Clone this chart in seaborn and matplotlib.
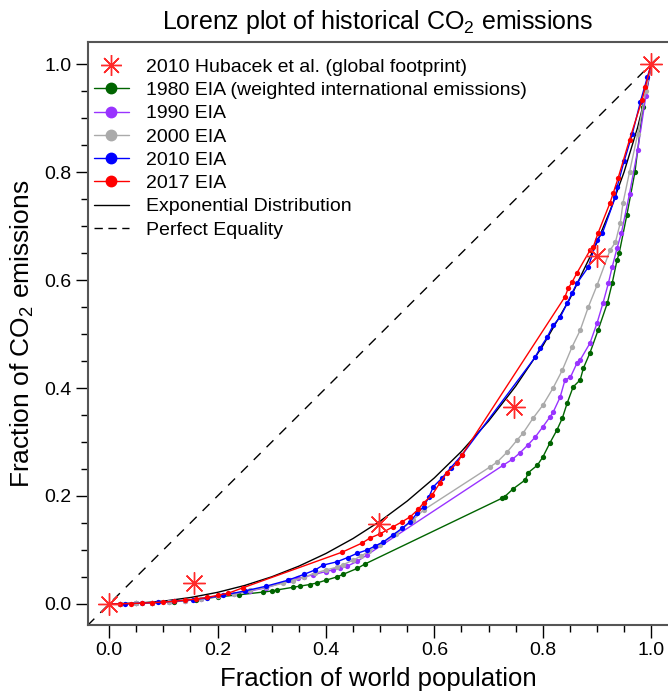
import numpy as np
import pandas as pd
import matplotlib
matplotlib.use('Agg')
import matplotlib.pyplot as plt
from matplotlib.lines import Line2D
import seaborn as sns

sns.set_style("ticks")
plt.rcParams['font.family'] = ['Liberation Sans', 'DejaVu Sans']
plt.rcParams['mathtext.fontset'] = 'custom'
plt.rcParams['mathtext.rm'] = 'Liberation Sans'
plt.rcParams['text.color'] = 'black'
plt.rcParams['axes.labelcolor'] = 'black'
plt.rcParams['xtick.color'] = 'black'
plt.rcParams['ytick.color'] = 'black'

# Hubacek et al. 2010 (global footprint)
hub_x = [0.0, 0.157, 0.498, 0.747, 0.900, 1.0]
hub_y = [0.0, 0.039, 0.148, 0.365, 0.644, 1.0]

# EIA 1980
x1980 = [0, 0.02, 0.05, 0.08, 0.12, 0.16, 0.20, 0.24, 0.284, 0.30, 0.31, 0.34, 0.352, 0.37,
         0.384, 0.40, 0.42, 0.432, 0.458, 0.472, 0.725, 0.73, 0.745, 0.768, 0.773, 0.79,
         0.80, 0.813, 0.826, 0.836, 0.845, 0.856, 0.869, 0.875, 0.887, 0.902, 0.919, 0.928,
         0.937, 0.941, 0.955, 0.97, 0.985, 1.0]
y1980 = [0, 0.0004, 0.001, 0.002, 0.004, 0.008, 0.013, 0.017, 0.022, 0.024, 0.026, 0.031,
         0.033, 0.036, 0.039, 0.044, 0.050, 0.055, 0.066, 0.074, 0.196, 0.199, 0.213, 0.230,
         0.243, 0.257, 0.272, 0.298, 0.322, 0.344, 0.372, 0.402, 0.415, 0.437, 0.465, 0.507,
         0.557, 0.594, 0.637, 0.65, 0.72, 0.80, 0.92, 1.0]

# EIA 1990
x1990 = [0, 0.02, 0.05, 0.08, 0.11, 0.14, 0.17, 0.20, 0.23, 0.26, 0.29, 0.334, 0.349, 0.36,
         0.376, 0.40, 0.413, 0.426, 0.439, 0.458, 0.476, 0.727, 0.744, 0.758, 0.773, 0.786,
         0.80, 0.813, 0.819, 0.832, 0.841, 0.851, 0.863, 0.869, 0.887, 0.90, 0.911, 0.921,
         0.928, 0.937, 0.945, 0.96, 0.975, 0.99, 1.0]
y1990 = [0, 0.0003, 0.001, 0.002, 0.004, 0.006, 0.009, 0.014, 0.019, 0.024, 0.030, 0.044,
         0.048, 0.050, 0.054, 0.060, 0.063, 0.066, 0.070, 0.079, 0.091, 0.257, 0.268, 0.280,
         0.295, 0.309, 0.328, 0.346, 0.355, 0.383, 0.415, 0.420, 0.446, 0.452, 0.483, 0.520,
         0.557, 0.594, 0.624, 0.659, 0.687, 0.76, 0.84, 0.94, 1.0]

# EIA 2000
x2000 = [0, 0.02, 0.05, 0.08, 0.11, 0.14, 0.17, 0.20, 0.23, 0.26, 0.29, 0.32, 0.34, 0.36,
         0.38, 0.40, 0.42, 0.432, 0.45, 0.465, 0.48, 0.50, 0.53, 0.56, 0.58, 0.703, 0.716,
         0.734, 0.753, 0.764, 0.782, 0.80, 0.819, 0.836, 0.854, 0.869, 0.884, 0.90, 0.924,
         0.934, 0.943, 0.948, 0.96, 0.975, 0.99, 1.0]
y2000 = [0, 0.0003, 0.001, 0.002, 0.004, 0.006, 0.009, 0.014, 0.019, 0.025, 0.031, 0.038,
         0.043, 0.050, 0.057, 0.063, 0.068, 0.073, 0.081, 0.089, 0.098, 0.110, 0.130, 0.155,
         0.174, 0.254, 0.263, 0.281, 0.304, 0.317, 0.344, 0.368, 0.400, 0.433, 0.476, 0.507,
         0.550, 0.590, 0.655, 0.670, 0.706, 0.743, 0.80, 0.87, 0.95, 1.0]

# EIA 2010
x2010 = [0, 0.03, 0.06, 0.09, 0.12, 0.155, 0.18, 0.21, 0.25, 0.29, 0.33, 0.36, 0.38, 0.395,
         0.42, 0.44, 0.458, 0.476, 0.49, 0.506, 0.524, 0.54, 0.555, 0.568, 0.58, 0.59, 0.598,
         0.614, 0.63, 0.651, 0.786, 0.795, 0.808, 0.819, 0.832, 0.845, 0.854, 0.863, 0.884,
         0.90, 0.91, 0.934, 0.937, 0.95, 0.965, 0.98, 0.993, 1.0]
y2010 = [0, 0.0005, 0.0015, 0.003, 0.005, 0.008, 0.011, 0.016, 0.024, 0.033, 0.044, 0.055,
         0.063, 0.072, 0.078, 0.086, 0.094, 0.100, 0.107, 0.115, 0.128, 0.140, 0.152, 0.168,
         0.180, 0.198, 0.217, 0.233, 0.252, 0.276, 0.457, 0.474, 0.494, 0.516, 0.531, 0.557,
         0.576, 0.594, 0.624, 0.674, 0.687, 0.754, 0.772, 0.82, 0.87, 0.93, 0.976, 1.0]

# EIA 2017
x2017 = [0, 0.02, 0.04, 0.06, 0.08, 0.10, 0.12, 0.14, 0.16, 0.18, 0.20, 0.22, 0.247, 0.43,
         0.467, 0.481, 0.50, 0.524, 0.54, 0.555, 0.57, 0.58, 0.596, 0.61, 0.623, 0.642, 0.651,
         0.841, 0.847, 0.854, 0.863, 0.887, 0.893, 0.902, 0.924, 0.93, 0.939, 0.96, 0.983,
         0.989, 1.0]
y2017 = [0, 0.0003, 0.0008, 0.0015, 0.0025, 0.0035, 0.005, 0.007, 0.009, 0.012, 0.016, 0.020,
         0.030, 0.096, 0.113, 0.122, 0.130, 0.143, 0.152, 0.161, 0.175, 0.187, 0.202, 0.224,
         0.243, 0.261, 0.276, 0.569, 0.585, 0.596, 0.613, 0.655, 0.661, 0.687, 0.743, 0.761,
         0.789, 0.86, 0.933, 0.957, 1.0]

# Exponential distribution Lorenz curve
exp_x = [0, 0.05, 0.10, 0.15, 0.20, 0.25, 0.30, 0.35, 0.40, 0.45, 0.50, 0.55, 0.60, 0.65,
         0.70, 0.75, 0.80, 0.85, 0.90, 0.925, 0.95, 0.975, 0.99, 0.995, 1.0]
exp_y = [0, 0.0013, 0.0052, 0.0119, 0.0215, 0.0342, 0.0503, 0.0700, 0.0935, 0.1212, 0.1534,
         0.1907, 0.2335, 0.2826, 0.3388, 0.4034, 0.4781, 0.5654, 0.6697, 0.7307, 0.8002,
         0.8828, 0.9440, 0.9685, 1.0]

# Perfect equality
eq_x = [-0.04, 1.015]
eq_y = [-0.04, 1.015]

series = [
    ('1980 EIA (weighted international emissions)', x1980, y1980, '#006400'),
    ('1990 EIA', x1990, y1990, '#9933ff'),
    ('2000 EIA', x2000, y2000, '#aaaaaa'),
    ('2010 EIA', x2010, y2010, '#0000ff'),
    ('2017 EIA', x2017, y2017, '#ff0000'),
]

fig = plt.figure(figsize=(6.68, 6.96), dpi=100)
ax = fig.add_axes([0.1317, 0.102, 0.8683, 0.8377])

sns.lineplot(x=eq_x, y=eq_y, ax=ax, color='black', linewidth=1, dashes=False,
             linestyle=(0, (7, 6)), sort=False, estimator=None)
sns.lineplot(x=exp_x, y=exp_y, ax=ax, color='black', linewidth=1, sort=False, estimator=None)

for label, xs, ys, col in series:
    sns.lineplot(x=xs, y=ys, ax=ax, color=col, linewidth=1, marker='o', markersize=3.8,
                 markeredgewidth=0, sort=False, estimator=None)

ax.plot(hub_x, hub_y, linestyle='none', marker=(8, 2, 0), markersize=16,
        markeredgewidth=1.0, color='#ff2a2a')

ax.set_xlim(-0.039, 1.031)
ax.set_ylim(-0.039, 1.041)
ax.set_xticks([0, 0.2, 0.4, 0.6, 0.8, 1.0])
ax.set_yticks([0, 0.2, 0.4, 0.6, 0.8, 1.0])
ax.set_xticks(np.arange(0, 1.001, 0.05), minor=True)
ax.set_yticks(np.arange(0, 1.001, 0.05), minor=True)
ax.xaxis.set_major_formatter(plt.FormatStrFormatter('%.1f'))
ax.yaxis.set_major_formatter(plt.FormatStrFormatter('%.1f'))
ax.tick_params(which='major', length=9, width=1, labelsize=14, direction='out', pad=3)
ax.tick_params(which='minor', length=5, width=1, direction='out')
ax.spines['right'].set_visible(False)
for s in ['left', 'bottom', 'top']:
    ax.spines[s].set_color('#555555')
    ax.spines[s].set_linewidth(1.5)

ax.set_title('Lorenz plot of historical CO$_2$ emissions', fontsize=18, pad=9)
ax.set_xlabel('Fraction of world population', fontsize=18.5, labelpad=6)
ax.set_ylabel('Fraction of CO$_2$ emissions', fontsize=19, labelpad=6)

handles = [Line2D([], [], linestyle='none', marker=(8, 2, 0), markersize=15,
                  markeredgewidth=1.0, color='#ff2a2a')]
labels = ['2010 Hubacek et al. (global footprint)']
for label, xs, ys, col in series:
    handles.append(Line2D([], [], color=col, linewidth=1, marker='o', markersize=7.5))
    labels.append(label)
handles.append(Line2D([], [], color='black', linewidth=1))
labels.append('Exponential Distribution')
handles.append(Line2D([], [], color='black', linewidth=1, linestyle=(0, (6, 4))))
labels.append('Perfect Equality')
ax.legend(handles, labels, loc='upper left', bbox_to_anchor=(0.0, 0.982), frameon=False,
          fontsize=14, handlelength=1.8, labelspacing=0.29, handletextpad=0.9,
          borderaxespad=0.0, borderpad=0.3)

plt.savefig('out.png', dpi=100)
